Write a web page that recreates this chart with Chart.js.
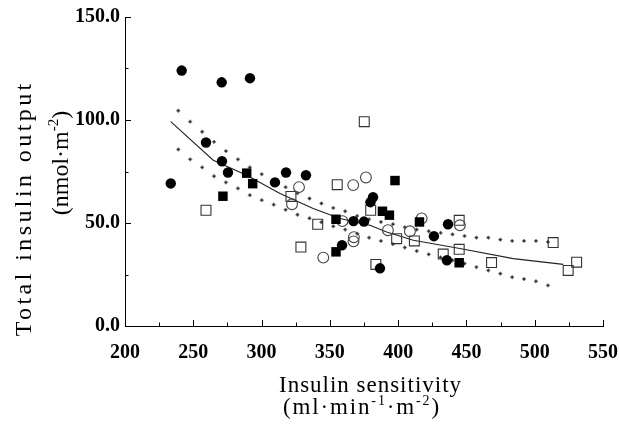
<!DOCTYPE html>
<html><head><meta charset="utf-8">
<script src="https://cdn.jsdelivr.net/npm/chart.js@4/dist/chart.umd.min.js"></script>
<style>html,body{margin:0;padding:0;background:#fff;}canvas{display:block;}</style>
</head><body>
<canvas id="c" width="620" height="430"></canvas>
<script>
// ---- tick labels ----
const xTicks = [200, 250, 300, 350, 400, 450, 500, 550];
const yTicks = [0, 50, 100, 150];

// ---- filled circles ----
const fcX = [241.5, 270.8, 291.5, 233.5, 259.3, 271.0, 275.4, 317.9, 332.5, 309.8, 381.6, 379.7, 367.3, 375.0, 358.9, 386.7, 436.5, 426.2, 435.7];
const fcY = [124.0, 118.3, 120.3, 69.2, 89.1, 80.0, 74.5, 74.5, 73.2, 69.7, 62.5, 60.1, 50.9, 50.7, 39.2, 28.0, 49.4, 43.6, 31.9];

// ---- filled squares ----
const fsX = [289.1, 293.5, 271.7, 354.5, 354.5, 397.7, 388.5, 393.6, 415.6, 444.7];
const fsY = [74.2, 69.1, 63.0, 51.8, 36.0, 70.6, 55.7, 53.8, 50.5, 30.7];

// ---- open circles ----
const ocX = [327.4, 322.3, 367.1, 376.4, 359.2, 367.6, 367.3, 345.2, 392.5, 408.6, 417.2, 445.2];
const ocY = [67.4, 59.1, 68.4, 72.1, 50.9, 43.1, 41.1, 33.2, 46.5, 46.0, 52.2, 48.9];

// ---- open squares ----
const osX = [259.3, 321.5, 355.4, 341.1, 328.8, 379.9, 383.7, 375.2, 398.9, 411.9, 444.7, 444.7, 433.0, 468.4, 513.5, 524.5, 530.7];
const osY = [56.2, 62.9, 68.6, 49.4, 38.3, 56.2, 29.9, 99.2, 42.4, 41.3, 51.3, 37.2, 34.9, 30.8, 40.5, 27.0, 31.0];

// ---- fitted curve ----
const fitX = [233.5, 264.6, 289.1, 313.5, 337.8, 357.4, 379.4, 391.6, 411.1, 445.2, 484.3, 520.9];
const fitY = [99.2, 80.5, 73.2, 64.3, 57.0, 52.2, 48.9, 45.6, 41.6, 37.6, 32.7, 29.9];

// ---- confidence bands ----
const bandX = [239.0, 247.7, 256.5, 265.2, 273.9, 282.7, 291.4, 300.1, 308.9, 317.6, 326.3, 335.1, 343.8, 352.5, 361.2, 370.0, 378.7, 387.4, 396.2, 404.9, 413.6, 422.4, 431.1, 439.8, 448.6, 457.3, 466.0, 474.8, 483.5, 492.2, 500.9, 509.7];
const upperY = [104.5, 99.2, 94.3, 89.4, 84.9, 80.9, 77.0, 73.7, 70.3, 67.4, 64.5, 61.9, 59.5, 57.3, 55.7, 53.4, 51.8, 50.5, 49.4, 47.9, 46.8, 46.0, 45.2, 44.5, 43.7, 42.9, 42.9, 41.9, 41.3, 41.3, 41.3, 40.8];
const lowerY = [85.7, 80.9, 77.0, 72.7, 69.7, 66.8, 63.5, 61.1, 58.9, 56.4, 54.0, 52.3, 50.4, 48.4, 46.8, 44.8, 42.9, 41.3, 39.7, 38.1, 36.4, 34.8, 33.3, 31.9, 30.3, 28.6, 27.0, 25.4, 23.7, 22.8, 21.7, 19.7];

// ---- titles ----
const xTitle1 = [{t: 'Insulin sensitivity'}];
const xTitle2 = [{t: '(ml·min'}, {t: '-1', sup: true}, {t: '·m'}, {t: '-2', sup: true}, {t: ')'}];
const yTitle1 = [{t: 'Total insulin output'}];
const yTitle2 = [{t: '(nmol·m'}, {t: '-2', sup: true}, {t: ')'}];

const pts = (xs, ys) => xs.map((x, i) => ({x: x, y: ys[i]}));
const SERIF = '"Liberation Serif", "Times New Roman", serif';

function segW(ctx, s, size, ls) {
  ctx.font = (s.sup ? Math.round(size * 0.62) : size) + 'px ' + SERIF;
  ctx.letterSpacing = ls + 'px';
  return ctx.measureText(s.t).width;
}
function drawRich(ctx, segs, size, cx, by, target) {
  const n = segs.reduce((a, s) => a + s.t.length, 0);
  const nat = segs.reduce((a, s) => a + segW(ctx, s, size, 0), 0);
  const ls = target ? Math.max(0, (target - nat) / n) : 0;
  const total = segs.reduce((a, s) => a + segW(ctx, s, size, ls), 0) - ls;
  let x = cx - total / 2;
  ctx.textAlign = 'left';
  ctx.textBaseline = 'alphabetic';
  segs.forEach(s => {
    const w = segW(ctx, s, size, ls);
    ctx.fillText(s.t, x, by - (s.sup ? size * 0.4 : 0));
    x += w;
  });
  ctx.letterSpacing = '0px';
}

const decor = {
  id: 'decor',
  afterDraw(chart) {
    const ctx = chart.ctx, xs = chart.scales.x, ys = chart.scales.y, a = chart.chartArea;
    ctx.save();
    ctx.strokeStyle = '#000';
    ctx.lineWidth = 1;
    ctx.beginPath();
    xs.ticks.forEach((t, i) => {
      const p = Math.round(xs.getPixelForValue(t.value)) + 0.5;
      ctx.moveTo(p, a.bottom); ctx.lineTo(p, a.bottom - 6);
      if (i < xs.ticks.length - 1) {
        const m = Math.round(xs.getPixelForValue((t.value + xs.ticks[i + 1].value) / 2)) + 0.5;
        ctx.moveTo(m, a.bottom); ctx.lineTo(m, a.bottom - 3.5);
      }
    });
    ys.ticks.forEach((t, i) => {
      const p = Math.round(ys.getPixelForValue(t.value)) + 0.5;
      ctx.moveTo(a.left, p); ctx.lineTo(a.left + 6, p);
      if (i < ys.ticks.length - 1) {
        const m = Math.round(ys.getPixelForValue((t.value + ys.ticks[i + 1].value) / 2)) + 0.5;
        ctx.moveTo(a.left, m); ctx.lineTo(a.left + 3.5, m);
      }
    });
    ctx.stroke();
    ctx.fillStyle = '#000';
    // x title
    drawRich(ctx, xTitle1, 23, 370, 392, 183);
    drawRich(ctx, xTitle2, 23, 361, 414, 158);
    // y title (rotated)
    ctx.save(); ctx.translate(31, 210); ctx.rotate(-Math.PI / 2);
    drawRich(ctx, yTitle1, 24, 0, 0, 256);
    ctx.restore();
    ctx.save(); ctx.translate(68, 163); ctx.rotate(-Math.PI / 2);
    drawRich(ctx, yTitle2, 24, 0, 0, 104);
    ctx.restore();
    ctx.restore();
  }
};

const tickFont = {family: SERIF, weight: 'bold', size: 20};

new Chart(document.getElementById('c'), {
  type: 'scatter',
  data: {
    datasets: [
      {label: 'Filled circles', data: pts(fcX, fcY), pointStyle: 'circle', pointRadius: 5.2, backgroundColor: '#000', borderColor: '#000', borderWidth: 0},
      {label: 'Filled squares', data: pts(fsX, fsY), pointStyle: 'rect', pointRadius: 6.7, backgroundColor: '#000', borderColor: '#000', borderWidth: 0},
      {label: 'Open circles', data: pts(ocX, ocY), pointStyle: 'circle', pointRadius: 5.4, backgroundColor: 'rgba(255,255,255,0)', borderColor: '#444', borderWidth: 1.1},
      {label: 'Open squares', data: pts(osX, osY), pointStyle: 'rect', pointRadius: 7, backgroundColor: 'rgba(255,255,255,0)', borderColor: '#333', borderWidth: 1.1},
      {label: 'Fit', data: pts(fitX, fitY), showLine: true, borderColor: '#222', borderWidth: 1.1, pointRadius: 0, tension: 0, fill: false},
      {label: 'Upper band', data: pts(bandX, upperY), pointStyle: 'rectRot', pointRadius: 1.9, backgroundColor: '#333', borderColor: '#888', borderWidth: 0.8},
      {label: 'Lower band', data: pts(bandX, lowerY), pointStyle: 'rectRot', pointRadius: 1.9, backgroundColor: '#333', borderColor: '#888', borderWidth: 0.8}
    ]
  },
  options: {
    responsive: false,
    animation: false,
    devicePixelRatio: 1,
    events: [],
    layout: {padding: {top: 17, right: 17, left: 0, bottom: 0}},
    plugins: {legend: {display: false}, tooltip: {enabled: false}},
    scales: {
      x: {
        type: 'linear', min: xTicks[0], max: xTicks[xTicks.length - 1],
        afterBuildTicks: s => { s.ticks = xTicks.map(v => ({value: v})); },
        grid: {display: false, drawTicks: false},
        border: {display: true, color: '#000', width: 1},
        ticks: {padding: 15, color: '#000', font: tickFont, maxRotation: 0, autoSkip: false},
        afterFit: s => { s.height = 104; s.paddingLeft = 0; s.paddingRight = 0; }
      },
      y: {
        type: 'linear', min: yTicks[0], max: yTicks[yTicks.length - 1],
        afterBuildTicks: s => { s.ticks = yTicks.map(v => ({value: v})); },
        grid: {display: false, drawTicks: false},
        border: {display: true, color: '#000', width: 1},
        ticks: {padding: 5, color: '#000', font: tickFont, autoSkip: false, callback: v => Number(v).toFixed(1)},
        afterFit: s => { s.width = 125; s.paddingTop = 0; s.paddingBottom = 0; }
      }
    }
  },
  plugins: [decor]
});
</script>
</body></html>
